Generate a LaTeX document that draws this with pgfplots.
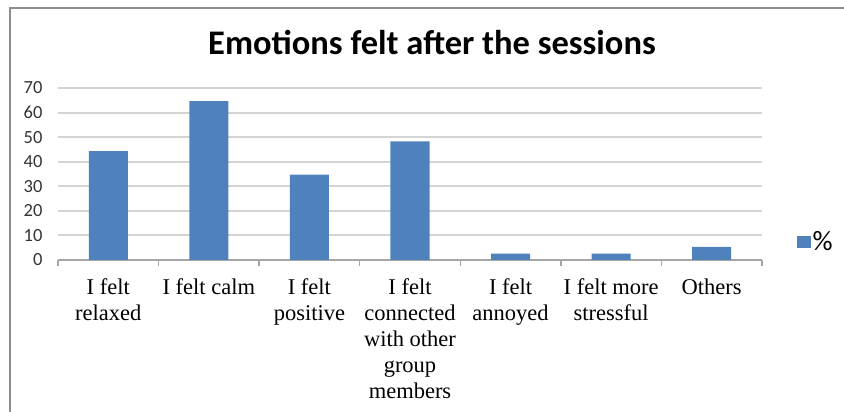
\documentclass[border=0pt]{standalone}
\usepackage{pgfplots}
\pgfplotsset{compat=1.18}
\usepackage{fontspec}
\setmainfont{Liberation Serif}
\newfontfamily\calibri{Carlito}
\definecolor{barblue}{HTML}{4F81BD}
\definecolor{gridgray}{HTML}{D4D4D4}
\definecolor{axgray}{HTML}{A6A6A6}
\definecolor{framegray}{HTML}{8C8C8C}

\begin{document}
\begin{tikzpicture}[x=1pt,y=1pt]
\begin{axis}[
    scale only axis,
    width=704pt, height=172pt,
    at={(58pt,152pt)}, anchor=south west,
    ybar, bar width=39pt,
    xmin=-0.5, xmax=6.5,
    ymin=0, ymax=70,
    ytick={0,10,...,70},
    xtick={0,...,6},
    xticklabels={I felt\\relaxed, I felt calm, I felt\\positive,
        I felt\\connected\\with other\\group\\members,
        I felt\\annoyed, I felt more\\stressful, Others},
    minor xtick={-0.5,0.5,...,6.5},
    major tick length=0pt,
    minor tick length=6pt,
    tick align=outside,
    xtick pos=bottom,
    axis x line*=bottom,
    axis y line*=left,
    y axis line style={draw=none},
    x axis line style={axgray, line width=1.5pt},
    minor tick style={axgray, line width=1.5pt},
    ymajorgrids,
    major grid style={gridgray, line width=2pt},
    xticklabel style={align=center, font=\fontsize{22.5}{26}\selectfont, yshift=-15pt},
    yticklabel style={font=\calibri\fontsize{18.5}{20}\selectfont, xshift=-12pt, text=black!80},
    /pgf/number format/assume math mode=true,
    legend style={at={(rel axis cs:1.049,0.105)}, anchor=west, draw=none,
        font=\calibri\fontsize{28}{30}\selectfont, inner sep=0pt},
    legend image code/.code={\fill[barblue] (-4pt,-6pt) rectangle (10pt,6pt);},
]
\addplot[fill=barblue, draw=none] coordinates {
    (0,44.3) (1,64.7) (2,34.7) (3,48.3) (4,2.6) (5,2.6) (6,5.3)
};
\addlegendentry{\%}
\end{axis}
\node[font=\calibri\bfseries\fontsize{34.5}{38}\selectfont, anchor=base] at (432,357) {Emotions felt after the sessions};
\draw[framegray, line width=1.5pt] (10,0) -- (10,404) -- (844,404);
\pgfresetboundingbox
\useasboundingbox (0,0) rectangle (844,412);
\end{tikzpicture}
\end{document}
